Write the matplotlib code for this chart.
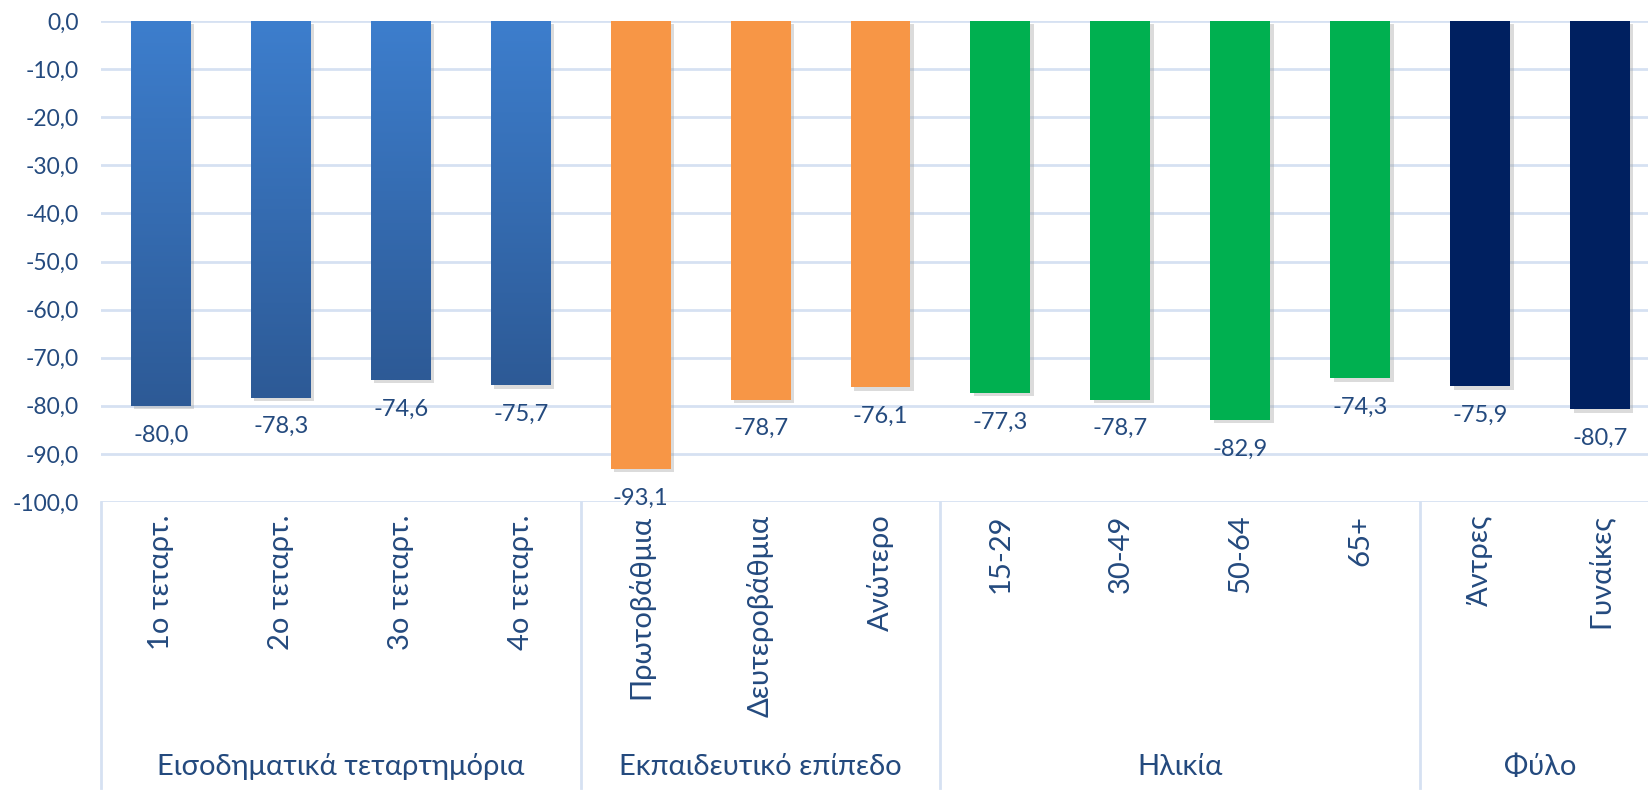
import matplotlib
matplotlib.use("Agg")
import matplotlib.pyplot as plt
import numpy as np
from matplotlib.ticker import FuncFormatter
from matplotlib import patheffects as pe
from matplotlib.colors import to_rgb

plt.rcParams['font.family'] = ['Lato', 'DejaVu Sans']

categories = ["1ο τεταρτ.", "2ο τεταρτ.", "3ο τεταρτ.", "4ο τεταρτ.",
              "Πρωτοβάθμια", "Δευτεροβάθμια", "Ανώτερο",
              "15-29", "30-49", "50-64", "65+",
              "Άντρες", "Γυναίκες"]
values = [-80.0, -78.3, -74.6, -75.7,
          -93.1, -78.7, -76.1,
          -77.3, -78.7, -82.9, -74.3,
          -75.9, -80.7]
groups = ["Εισοδηματικά τεταρτημόρια", "Εκπαιδευτικό επίπεδο", "Ηλικία", "Φύλο"]
group_sizes = [4, 3, 4, 2]
group_colors = ["gradient", "#F79646", "#00B050", "#002060"]

TEXT = "#244A7E"
GRID = "#D6E1F2"
BLUE_TOP = "#3D7ECD"
BLUE_BOT = "#2D5A96"

fig = plt.figure(figsize=(16.48, 7.97), dpi=100)
ax = fig.add_axes([101/1648, 1-502/797, 1559/1648, 481/797])

x = np.arange(len(categories))
colors = []
for g, n in zip(group_colors, group_sizes):
    colors += [g] * n

for xi, v, c in zip(x, values, colors):
    fc = BLUE_TOP if c == "gradient" else c
    b = ax.bar(xi, v, width=0.5, color=fc, zorder=3,
               path_effects=[pe.SimplePatchShadow(offset=(2.5, -2.5), shadow_rgbFace='#9a9a9a', alpha=0.35), pe.Normal()])[0]
    if c == "gradient":
        top = np.array(to_rgb(BLUE_TOP))
        bot = np.array(to_rgb(BLUE_BOT))
        t = np.linspace(0, 1, 256)[:, None, None]
        grad = top[None, None, :] * (1 - t) + bot[None, None, :] * t
        im = ax.imshow(grad, extent=(xi - 0.25, xi + 0.25, v, 0), origin='upper',
                       aspect='auto', zorder=4, interpolation='bilinear')
        im.set_clip_path(b)

for xi, v in zip(x, values):
    ax.annotate(f"{v:.1f}".replace(".", ","), (xi, v), xytext=(0, -21),
                textcoords='offset points', ha='center', va='center',
                fontsize=17, color=TEXT, zorder=5)

ax.set_xlim(-0.5, len(categories) - 0.5)
ax.set_ylim(-100, 0)
ax.set_yticks(np.arange(-100, 1, 10))
ax.yaxis.set_major_formatter(FuncFormatter(lambda v, p: f"{v:.1f}".replace(".", ",")))
ax.grid(axis='y', color=GRID, linewidth=2, zorder=0)
ax.set_axisbelow(True)
for s in ax.spines.values():
    s.set_visible(False)
ax.tick_params(axis='y', length=0, pad=16, labelsize=16.5, labelcolor=TEXT)
ax.set_xticks(x)
ax.set_xticklabels(categories, rotation=90, fontsize=21, color=TEXT)
ax.tick_params(axis='x', length=0, pad=9)
for lbl in ax.get_xticklabels():
    lbl.set_verticalalignment('top')

trans = ax.get_xaxis_transform()
bounds = np.concatenate([[0], np.cumsum(group_sizes)]) - 0.5
sep_bottom = -286/481
for bx in bounds:
    ax.plot([bx, bx], [0, sep_bottom], color=GRID, linewidth=2, transform=trans, clip_on=False, zorder=1)
for i, gname in enumerate(groups):
    cx = (bounds[i] + bounds[i + 1]) / 2
    ax.text(cx, -265/481, gname, transform=trans, ha='center', va='center',
            fontsize=21, color=TEXT)

fig.savefig("out.png", dpi=100)
